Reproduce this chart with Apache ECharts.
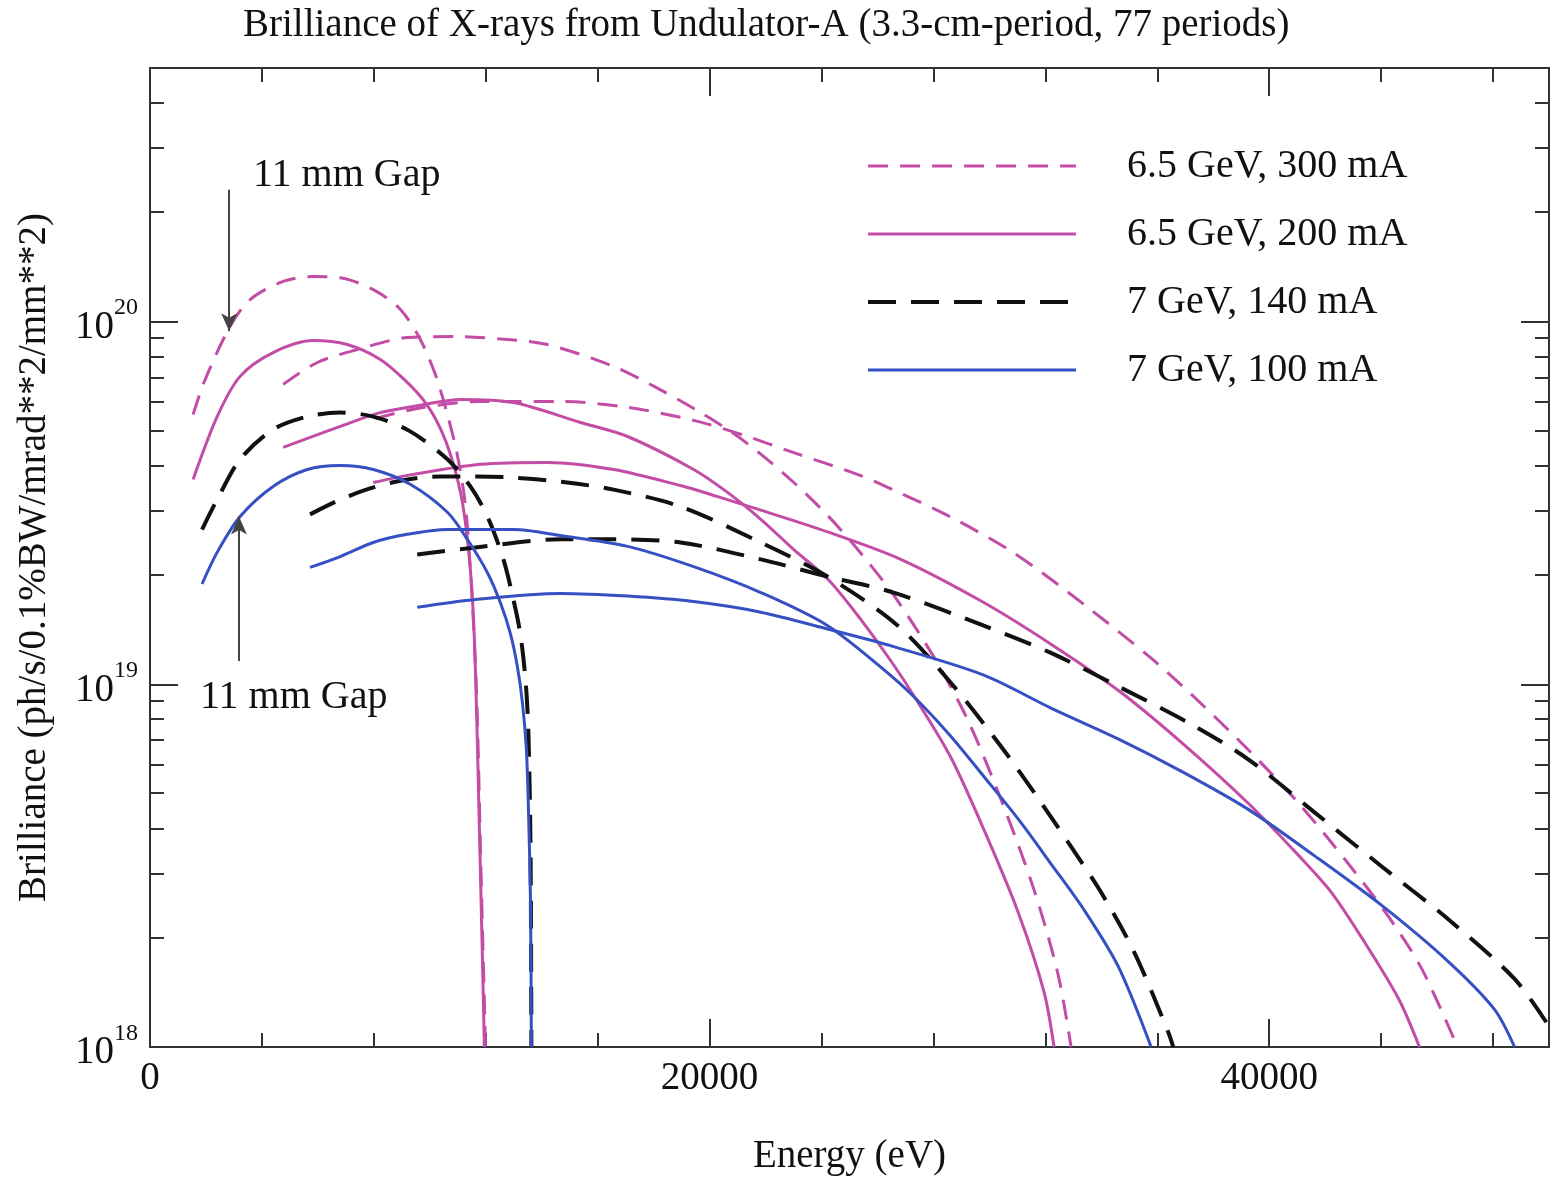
<!DOCTYPE html>
<html>
<head>
<meta charset="utf-8">
<title>Brilliance of X-rays from Undulator-A</title>
<script src="https://cdn.jsdelivr.net/npm/echarts@6/dist/echarts.min.js"></script>
<style>
  html, body { margin: 0; padding: 0; background: #fff; }
  #chart { width: 1552px; height: 1181px; }
</style>
</head>
<body>
<div id="chart"></div>
<script>
// energy (eV) , brilliance (ph/s/0.1%BW/mrad**2/mm**2)
var beamNames = ['6.5 GeV, 300 mA', '6.5 GeV, 200 mA', '7 GeV, 140 mA', '7 GeV, 100 mA'];

// 6.5 GeV, 300 mA  (1st, 3rd, 5th harmonic)
var m300H1 = [[1540, 5.54e19], [1970, 6.92e19], [2860, 9.69e19], [3580, 1.15e20], [4760, 1.29e20], [5830, 1.33e20], [6800, 1.32e20], [7980, 1.225e20], [8950, 1.08e20], [9660, 8.92e19], [10200, 7.14e19], [10630, 5.54e19], [10980, 4.30e19], [11270, 3.13e19], [11450, 2.07e19], [11590, 1.33e19], [11700, 8.01e18], [11810, 3.51e18], [11910, 1.75e18], [11990, 1.0e18]];
var m300H3 = [[4760, 6.71e19], [5980, 7.71e19], [7410, 8.37e19], [9200, 9.03e19], [10980, 9.09e19], [12770, 8.92e19], [14200, 8.64e19], [16570, 7.52e19], [18250, 6.48e19], [19680, 5.61e19], [20860, 4.91e19], [21830, 4.31e19], [23010, 3.60e19], [24220, 2.92e19], [25400, 2.30e19], [26580, 1.76e19], [28010, 1.19e19], [29230, 7.96e18], [30410, 4.82e18], [31590, 2.72e18], [32450, 1.59e18], [32920, 1.0e18]];
var m300H5 = [[8050, 5.40e19], [9550, 5.76e19], [11810, 6.02e19], [14670, 6.02e19], [17070, 5.80e19], [19430, 5.34e19], [21220, 4.86e19], [23010, 4.35e19], [25400, 3.76e19], [26830, 3.36e19], [28620, 2.89e19], [30880, 2.30e19], [33380, 1.66e19], [35780, 1.18e19], [37210, 9.39e18], [39250, 6.60e18], [41040, 4.71e18], [42830, 3.20e18], [44260, 2.29e18], [45440, 1.65e18], [46730, 1.0e18]];

// 6.5 GeV, 200 mA
var m200H1 = [[1540, 3.67e19], [2400, 5.47e19], [3220, 7.06e19], [4400, 8.21e19], [5830, 8.86e19], [7050, 8.64e19], [8230, 7.86e19], [9120, 6.88e19], [9840, 5.98e19], [10380, 5.07e19], [10800, 4.15e19], [11160, 3.19e19], [11410, 2.24e19], [11560, 1.53e19], [11660, 9.12e18], [11770, 4.06e18], [11880, 1.77e18], [11950, 1.0e18]];
var m200H3 = [[4760, 4.50e19], [6800, 5.14e19], [8230, 5.61e19], [9770, 5.90e19], [11090, 6.10e19], [12990, 5.98e19], [15390, 5.27e19], [17070, 4.82e19], [19430, 3.91e19], [20640, 3.38e19], [21830, 2.85e19], [23010, 2.35e19], [24220, 1.95e19], [25400, 1.51e19], [26580, 1.13e19], [27440, 8.94e18], [28620, 6.29e18], [29800, 3.98e18], [31020, 2.36e18], [31950, 1.42e18], [32310, 1.0e18]];
var m200H5 = [[7980, 3.60e19], [9410, 3.79e19], [11810, 4.04e19], [14200, 4.09e19], [16570, 3.91e19], [18960, 3.53e19], [20290, 3.29e19], [21830, 3.02e19], [24220, 2.63e19], [26830, 2.21e19], [29800, 1.68e19], [32200, 1.29e19], [34600, 9.63e18], [36850, 6.93e18], [39250, 4.70e18], [41040, 3.38e18], [42220, 2.67e18], [43400, 1.95e18], [44620, 1.36e18], [45370, 1.0e18]];

// 7 GeV, 140 mA
var b140H1 = [[1860, 2.67e19], [2400, 3.23e19], [3220, 4.17e19], [4400, 5.04e19], [5620, 5.47e19], [6800, 5.61e19], [7980, 5.47e19], [9300, 4.98e19], [10630, 4.17e19], [11450, 3.51e19], [12060, 2.90e19], [12630, 2.21e19], [12990, 1.71e19], [13240, 1.37e19], [13420, 1.03e19], [13520, 7.52e18], [13600, 3.51e18], [13630, 1.0e18]];
var b140H3 = [[5720, 2.94e19], [6800, 3.23e19], [7980, 3.49e19], [9200, 3.67e19], [10380, 3.74e19], [11560, 3.74e19], [12770, 3.72e19], [14670, 3.62e19], [16570, 3.44e19], [18960, 3.09e19], [21830, 2.46e19], [24220, 1.98e19], [26730, 1.45e19], [28620, 1.01e19], [30410, 6.75e18], [31590, 5.04e18], [32810, 3.67e18], [33990, 2.67e18], [35170, 1.83e18], [36390, 1.10e18], [36570, 1.0e18]];
var b140H5 = [[9550, 2.28e19], [11560, 2.38e19], [14670, 2.51e19], [16570, 2.51e19], [18960, 2.46e19], [21830, 2.21e19], [24220, 1.98e19], [26580, 1.79e19], [29800, 1.45e19], [32200, 1.22e19], [34600, 9.87e18], [37210, 7.76e18], [39250, 6.21e18], [41610, 4.44e18], [44010, 3.15e18], [46400, 2.25e18], [48770, 1.54e18], [50000, 1.14e18]];

// 7 GeV, 100 mA
var b100H1 = [[1860, 1.89e19], [2400, 2.31e19], [3220, 2.90e19], [4400, 3.51e19], [5620, 3.91e19], [6800, 4.01e19], [7980, 3.91e19], [9300, 3.56e19], [10630, 2.98e19], [11340, 2.51e19], [12060, 2.03e19], [12520, 1.68e19], [12880, 1.38e19], [13130, 1.12e19], [13310, 8.90e18], [13450, 6.65e18], [13520, 4.70e18], [13600, 2.50e18], [13630, 1.0e18]];
var b100H3 = [[5720, 2.10e19], [6800, 2.25e19], [7980, 2.46e19], [9200, 2.59e19], [10630, 2.67e19], [12990, 2.67e19], [14670, 2.57e19], [17070, 2.40e19], [19430, 2.11e19], [21830, 1.79e19], [24220, 1.45e19], [26580, 1.04e19], [27550, 8.84e18], [28620, 7.19e18], [29800, 5.57e18], [31020, 4.26e18], [32200, 3.20e18], [33380, 2.39e18], [34600, 1.67e18], [35780, 1.0e18]];
var b100H5 = [[9550, 1.63e19], [11560, 1.71e19], [14670, 1.78e19], [17070, 1.75e19], [19430, 1.69e19], [21830, 1.58e19], [24220, 1.42e19], [26580, 1.27e19], [29800, 1.06e19], [32200, 8.60e18], [34600, 7.07e18], [36850, 5.76e18], [39250, 4.52e18], [41610, 3.37e18], [44010, 2.46e18], [46400, 1.72e18], [48050, 1.27e18], [48770, 1.0e18]];

// "11 mm Gap" arrows: [energy, from, to]
var gapArrows = [[2830, 2.31e20, 9.4e19], [3180, 1.16e19, 2.9e19]];

var FONT = '"Liberation Serif", "Times New Roman", serif';
var MAG = '#c24ca6', BLUE = '#3550c2', BLACK = '#111111', AXIS = '#333333';

var chart = echarts.init(document.getElementById('chart'));

function curve(name, data, color, dash, width) {
    return {
        name: name,
        type: 'line',
        xAxisIndex: 0,
        yAxisIndex: 0,
        data: data,
        symbol: 'none',
        smooth: 0.3,
        color: color,
        lineStyle: { color: color, width: width, type: dash || 'solid', cap: 'butt' }
    };
}

var series = [
    curve(beamNames[0], m300H1, MAG, [20, 12], 3),
    curve(beamNames[0], m300H3, MAG, [20, 12], 3),
    curve(beamNames[0], m300H5, MAG, [20, 12], 3),
    curve(beamNames[1], m200H1, MAG, null, 3),
    curve(beamNames[1], m200H3, MAG, null, 3),
    curve(beamNames[1], m200H5, MAG, null, 3),
    curve(beamNames[2], b140H1, BLACK, [28, 15], 4),
    curve(beamNames[2], b140H3, BLACK, [28, 15], 4),
    curve(beamNames[2], b140H5, BLACK, [28, 15], 4),
    curve(beamNames[3], b100H1, BLUE, null, 3),
    curve(beamNames[3], b100H3, BLUE, null, 3),
    curve(beamNames[3], b100H5, BLUE, null, 3)
];

// arrows
series[0].markLine = {
    silent: true,
    animation: false,
    symbol: ['none', 'arrow'],
    symbolSize: [12, 18],
    label: { show: false },
    lineStyle: { color: '#444', width: 2, type: 'solid' },
    data: gapArrows.map(function (a) {
        return [{ coord: [a[0], a[1]] }, { coord: [a[0], a[2]] }];
    })
};

function xAxisCfg(pos, interval, len, labels) {
    return {
        type: 'value', position: pos, min: 0, max: 50000, interval: interval,
        axisLine: { show: true, onZero: false, lineStyle: { color: AXIS, width: 2 } },
        axisTick: { show: true, inside: true, length: len, lineStyle: { color: AXIS, width: 2 } },
        axisLabel: labels ? {
            show: true, margin: 12, fontFamily: FONT, fontSize: 39, color: '#111',
            formatter: function (v) { return v % 20000 === 0 ? String(v) : ''; }
        } : { show: false },
        splitLine: { show: false }
    };
}

function yAxisCfg(pos, labels) {
    return {
        type: 'log', logBase: 10, position: pos, min: 1e18, max: 5e20,
        axisLine: { show: true, onZero: false, lineStyle: { color: AXIS, width: 2 } },
        axisTick: { show: true, inside: true, length: 28, lineStyle: { color: AXIS, width: 2 } },
        axisLabel: labels ? {
            show: true, margin: 12,
            formatter: function (v) {
                var e = Math.round(Math.log10(v));
                if (Math.abs(Math.log10(v) - e) > 1e-6) return '';
                return '{b|10}{s|' + e + '}';
            },
            rich: {
                b: { fontFamily: FONT, fontSize: 39, color: '#111', verticalAlign: 'bottom', padding: [12, 0, 0, 0] },
                s: { fontFamily: FONT, fontSize: 24, color: '#111', verticalAlign: 'top', padding: [0, 0, 26, 0] }
            }
        } : { show: false },
        splitLine: { show: false }
    };
}

var xMain = xAxisCfg('bottom', 20000, 28, true);
xMain.name = 'Energy (eV)';
xMain.nameLocation = 'middle';
xMain.nameGap = 90;
xMain.nameTextStyle = { fontFamily: FONT, fontSize: 39, color: '#111' };

var yMain = yAxisCfg('left', true);
yMain.name = 'Brilliance (ph/s/0.1%BW/mrad**2/mm**2)';
yMain.nameLocation = 'middle';
yMain.nameGap = 96;
yMain.nameTextStyle = { fontFamily: FONT, fontSize: 39, color: '#111' };

var option = {
    animation: false,
    backgroundColor: '#fff',
    title: {
        text: 'Brilliance of X-rays from Undulator-A (3.3-cm-period, 77 periods)',
        left: 243, top: 6, padding: 0,
        textStyle: { fontFamily: FONT, fontSize: 39, fontWeight: 'normal', color: '#111' }
    },
    legend: {
        data: [
            { name: beamNames[0], lineStyle: { width: 3 } },
            { name: beamNames[1], lineStyle: { width: 3 } },
            { name: beamNames[2], lineStyle: { width: 4 } },
            { name: beamNames[3], lineStyle: { width: 3 } }
        ],
        orient: 'vertical',
        left: 866, top: 146, padding: 0,
        itemWidth: 208, itemHeight: 20, itemGap: 28,
        selectedMode: false,
        itemStyle: { opacity: 0 },
        textStyle: { fontFamily: FONT, fontSize: 40, color: '#111', lineHeight: 40, padding: [0, 0, 0, 46] }
    },
    grid: { left: 150, right: 2, top: 68, bottom: 133, containLabel: false },
    xAxis: [
        xMain,
        xAxisCfg('bottom', 4000, 14, false),
        xAxisCfg('top', 20000, 28, false),
        xAxisCfg('top', 4000, 14, false)
    ],
    yAxis: [yMain, yAxisCfg('right', false)],
    series: series
};
chart.setOption(option);

// minor log ticks (2..9 x 10^n) on both y sides
var yMinorTicks = [];
for (var e = 18; e <= 20; e++) {
    for (var m = 2; m <= 9; m++) {
        var v = m * Math.pow(10, e);
        if (v < 5e20) yMinorTicks.push(v);
    }
}
var xl = chart.convertToPixel({ xAxisIndex: 0 }, 0);
var xr = chart.convertToPixel({ xAxisIndex: 0 }, 50000);
var graphics = [
    { type: 'text', left: 253, top: 155, style: { text: '11 mm Gap', font: '40px ' + FONT, fill: '#111' } },
    { type: 'text', left: 200, top: 677, style: { text: '11 mm Gap', font: '40px ' + FONT, fill: '#111' } }
];
yMinorTicks.forEach(function (v) {
    var py = Math.round(chart.convertToPixel({ yAxisIndex: 0 }, v));
    graphics.push({ type: 'line', silent: true, shape: { x1: xl, y1: py, x2: xl + 14, y2: py }, style: { stroke: AXIS, lineWidth: 2 } });
    graphics.push({ type: 'line', silent: true, shape: { x1: xr - 14, y1: py, x2: xr, y2: py }, style: { stroke: AXIS, lineWidth: 2 } });
});
chart.setOption({ graphic: graphics });
</script>
</body>
</html>
